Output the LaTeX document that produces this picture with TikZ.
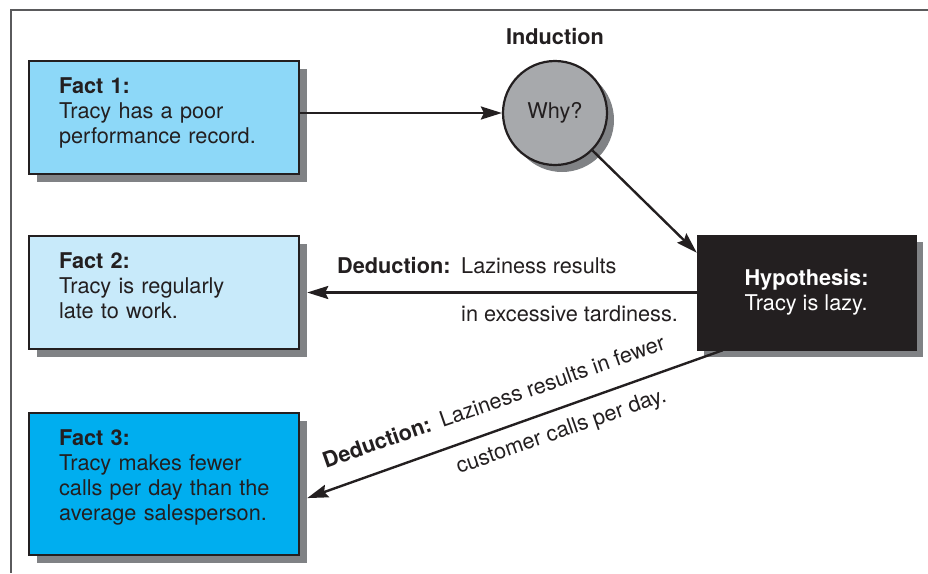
\documentclass[tikz,border=0pt]{standalone}
\usepackage{fontspec}
\setmainfont{TeX Gyre Heros}
\usetikzlibrary{arrows.meta,shadows,calc}

\definecolor{factone}{RGB}{141,216,248}
\definecolor{facttwo}{RGB}{200,234,250}
\definecolor{factthree}{RGB}{0,174,239}
\definecolor{whygray}{RGB}{167,169,172}
\definecolor{shadowgray}{RGB}{128,130,133}
\definecolor{inkblack}{RGB}{35,31,32}
\definecolor{framegray}{RGB}{90,90,92}

\tikzset{
    fact/.style={draw=inkblack, line width=2.2pt, anchor=north west, align=left,
        text width=210pt, inner xsep=30pt, inner ysep=17pt, text height=15pt, text depth=64pt,
        drop shadow={shadow xshift=8pt, shadow yshift=-8pt, fill=shadowgray, opacity=1}},
    hypbox/.style={draw=inkblack, fill=inkblack, text=white, align=left,
        minimum width=219pt, minimum height=115pt,
        drop shadow={shadow xshift=7pt, shadow yshift=-7pt, fill=shadowgray, opacity=1}},
    whycircle/.style={circle, draw=inkblack, line width=2.2pt, fill=whygray, minimum size=104pt, inner sep=0pt,
        drop shadow={shadow xshift=7pt, shadow yshift=-7pt, fill=shadowgray, opacity=1}},
    connector/.style={draw=inkblack, line width=2.4pt, -{Stealth[length=21pt, width=13pt, inset=3pt]}},
    labeltext/.style={inner sep=0pt, anchor=base west}
}

\begin{document}
\begin{tikzpicture}[x=1pt, y=-1pt, font=\fontsize{21.7}{25}\selectfont, every node/.append style={text=inkblack}]
        \useasboundingbox (0,0) rectangle (928,573);
        \draw[framegray, line width=1.3pt] (928,10) -- (11,10) -- (11,573);

        \node[fact, fill=factone] (fact1) at (28,60) {\textbf{Fact 1:}\\Tracy has a poor\\performance record.};
        \node[fact, fill=facttwo] (fact2) at (28,235) {\textbf{Fact 2:}\\Tracy is regularly\\late to work.};
        \node[fact, fill=factthree, text depth=93pt] (fact3) at (28,412) {\textbf{Fact 3:}\\Tracy makes fewer\\\mbox{calls per day than the}\\average salesperson.};

        \node[whycircle] (why) at (555,113) {Why?};
        \node[font=\fontsize{21.7}{25}\selectfont\bfseries] (induction) at (555,37) {Induction};

        \node[hypbox, text=white] (hyp) at (806.5,292.5) {\textbf{Hypothesis:}\\Tracy is lazy.};

        \coordinate (hypin) at ($(hyp.north west)+(0,18)$);
        \coordinate (hypout) at ($(hyp.south west)+(26,0)$);
        \coordinate (fact2in) at ($(fact2.east |- hyp.west)+(7,0)$);
        \coordinate (fact3in) at ($(fact3.east)+(7,14)$);

        \draw[connector] (fact1.east |- why.west) -- (why.west);
        \draw[connector] (why.south east) -- (hypin);
        \draw[connector] (hyp.west) -- (fact2in);
        \draw[connector] (hypout) -- (fact3in);

        \node[labeltext] (ded2) at (337,273) {\textbf{Deduction:}};
        \node[labeltext] (ded2a) at (461,273) {Laziness results};
        \node[labeltext] (ded2b) at (461,321) {in excessive tardiness.};

        \node[labeltext, rotate=19.25] (ded3) at (325.8,468.5) {\textbf{Deduction:}};
        \node[labeltext, rotate=19.25] (ded3a) at (442.8,427.6) {Laziness results in fewer};
        \node[labeltext, rotate=19.25] (ded3b) at (459,473.9) {customer calls per day.};
\end{tikzpicture}
\end{document}
